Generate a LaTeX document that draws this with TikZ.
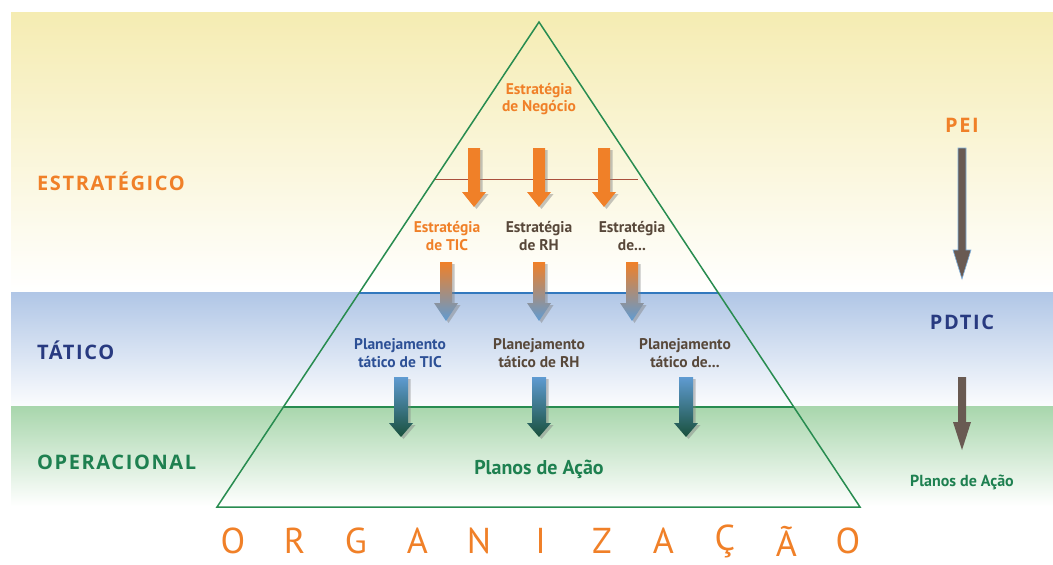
\documentclass[tikz,border=0pt]{standalone}
\usepackage{fontspec}
\setmainfont{PT Sans}
\newfontfamily\titulofont[LetterSpace=8]{Open Sans}
\usetikzlibrary{shadows}

\definecolor{laranja}{RGB}{240,128,40}
\definecolor{azulesc}{RGB}{40,58,128}
\definecolor{azultexto}{RGB}{45,80,150}
\definecolor{verdeesc}{RGB}{30,128,80}
\definecolor{marrom}{RGB}{88,72,58}
\definecolor{amarelo}{RGB}{245,236,178}
\definecolor{azulfaixa}{RGB}{176,198,230}
\definecolor{verdefaixa}{RGB}{168,214,172}
\definecolor{linhaverde}{RGB}{40,140,80}
\definecolor{linhamarrom}{RGB}{170,80,60}
\definecolor{linhaazul}{RGB}{50,120,190}
\definecolor{azulseta}{RGB}{95,155,210}
\definecolor{verdeseta}{RGB}{25,80,60}
\definecolor{cinzaseta}{RGB}{105,90,82}

% block arrow: style, x, top, tip, half shaft, half head, head length
\newcommand{\setabloco}[7]{%
  \path[#1] ({#2-#5},#3) -- ({#2+#5},#3) -- ({#2+#5},{#4-#7}) -- ({#2+#6},{#4-#7})
    -- (#2,#4) -- ({#2-#6},{#4-#7}) -- ({#2-#5},{#4-#7}) -- cycle;}

\begin{document}
\begin{tikzpicture}[x=1pt,y=-1pt,
  sombra/.style={drop shadow={opacity=0.45,shadow xshift=2.5pt,shadow yshift=-2pt}},
  rotulo/.style={font=\fontsize{15.5}{17.5}\bfseries\selectfont, align=center, inner sep=0pt},
  nivel/.style={font=\titulofont\fontsize{20}{22}\bfseries\selectfont, anchor=west, inner sep=0pt},
  sigla/.style={font=\titulofont\fontsize{20}{22}\bfseries\selectfont, inner sep=0pt}]
\useasboundingbox (0,0) rectangle (1053,565);

% faixas
\shade[top color=amarelo, bottom color=white] (11,12) rectangle (1053,292);
\shade[top color=azulfaixa, bottom color=white!95!azulfaixa] (11,292) rectangle (1053,406);
\shade[top color=verdefaixa, bottom color=white] (11,406) rectangle (1053,506);

% piramide
\draw[linhamarrom, line width=1pt] (435,179) -- (638,179);
\draw[linhaazul, line width=1.5pt] (359,293) -- (719,293);
\draw[linhaverde, line width=1.5pt] (284,407) -- (794,407);
\draw[linhaverde, line width=1.5pt, line join=miter] (539,22) -- (860,507) -- (217,507) -- cycle;

% setas
\foreach \x in {474,539,604}
  \setabloco{fill=laranja, sombra}{\x}{148}{207}{6}{12}{15};
\foreach \x in {446,539,632}
  \setabloco{top color=laranja, bottom color=azulseta, sombra}{\x}{262}{321}{6}{12}{18};
\foreach \x in {401,539,686}
  \setabloco{top color=azulseta, bottom color=verdeseta, sombra}{\x}{377}{437}{7}{12}{14};
\setabloco{fill=cinzaseta, draw=azulseta!80, line width=0.6pt}{962}{148}{279}{4}{9}{29};
\setabloco{fill=cinzaseta}{962}{377}{450}{4}{9}{28};

% textos da piramide
\node[rotulo, text=laranja] (negocio) at (539,99) {Estratégia\\de Negócio};
\node[rotulo, text=laranja] (estTIC) at (447,236) {Estratégia\\de TIC};
\node[rotulo, text=marrom] (estRH) at (539,236) {Estratégia\\de RH};
\node[rotulo, text=marrom] (estOutra) at (632,236) {Estratégia\\de...};
\node[rotulo, text=azultexto] (taticoTIC) at (400,353) {Planejamento\\tático de TIC};
\node[rotulo, text=marrom] (taticoRH) at (539,353) {Planejamento\\tático de RH};
\node[rotulo, text=marrom] (taticoOutro) at (685,353) {Planejamento\\tático de...};
\node[rotulo, text=verdeesc, font=\fontsize{20}{22}\bfseries\selectfont] (planos) at (539,469) {Planos de Ação};

% niveis
\node[nivel, text=laranja] (estrategico) at (37,181) {ESTRATÉGICO};
\node[nivel, text=azulesc] (tatico) at (37,350) {TÁTICO};
\node[nivel, text=verdeesc] (operacional) at (37,462) {OPERACIONAL};

% lado direito
\node[sigla, text=laranja] (pei) at (962,125) {PEI};
\node[sigla, text=azulesc] (pdtic) at (962,322) {PDTIC};
\node[rotulo, text=verdeesc, font=\fontsize{16}{18}\bfseries\selectfont] (planosDir) at (962,482) {Planos de Ação};

% organizacao
\foreach \l [count=\i from 0] in {O,R,G,A,N,I,Z,A,Ç,Ã,O}
  \node[text=laranja, font=\fontsize{36}{38}\selectfont, inner sep=0pt] (org\i) at ({233+61.5*\i},541) {\l};

\end{tikzpicture}
\end{document}
